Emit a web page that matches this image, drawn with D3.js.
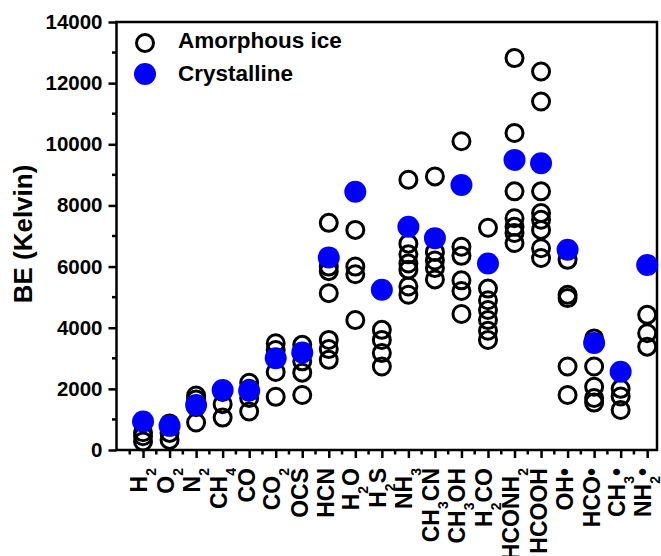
<!DOCTYPE html>
<html>
<head>
<meta charset="utf-8">
<script src="https://cdn.jsdelivr.net/npm/d3@7"></script>
<style>
  html, body { margin: 0; padding: 0; background: #fff; }
  svg { display: block; font-family: "Liberation Sans", Arial, sans-serif; font-weight: bold; }
</style>
</head>
<body>
<svg id="chart" width="661" height="556"></svg>
<script>
// Species (digits are drawn as subscripts)
const categories = ["H2","O2","N2","CH4","CO","CO2","OCS","HCN","H2O","H2S","NH3",
  "CH3CN","CH3OH","H2CO","HCONH2","HCOOH","OH•","HCO•","CH3•","NH2•"];

// Binding energies (K) on amorphous ice clusters, one list per species
const amorphous = [
  [280, 450, 580],
  [330, 560, 870],
  [900, 1400, 1650, 1780],
  [1060, 1500, 1900],
  [1260, 1700, 2000, 2200],
  [1740, 2550, 3270, 3490],
  [1800, 2530, 2900, 3440],
  [2950, 3300, 3600, 5130, 5850, 6000, 7430],
  [4250, 5750, 6000, 7200],
  [2730, 3170, 3600, 3930],
  [5080, 5350, 5900, 6100, 6400, 6750, 8840],
  [5580, 5950, 6200, 6480, 8950],
  [4450, 5200, 5550, 6350, 6650, 10100],
  [3600, 3900, 4250, 4580, 4900, 5280, 7270],
  [6770, 7100, 7300, 7580, 8460, 10370, 12820],
  [6280, 6600, 7200, 7530, 7750, 8460, 11400, 12380],
  [1800, 2730, 4970, 5080, 6220],
  [1550, 1700, 2070, 2730, 3650],
  [1310, 1750, 2000],
  [3380, 3820, 4420]
];

// Binding energies (K) on crystalline ice
const crystalline = [930, 790, 1470, 1960, 1940, 3000, 3190, 6300, 8450, 5240, 7300,
  6930, 8670, 6100, 9490, 9380, 6550, 3500, 2560, 6050];

const yTicks = [0, 2000, 4000, 6000, 8000, 10000, 12000, 14000];
const yMinorTicks = [1000, 3000, 5000, 7000, 9000, 11000, 13000];

const svg = d3.select("#chart");
const x = d3.scaleLinear().domain([0, 20.37]).range([116.5, 657]);
const y = d3.scaleLinear().domain([0, 14000]).range([450, 22]);

// Y axis: major ticks with labels, minor ticks between
const yAxis = svg.append("g").attr("transform", `translate(${x(0)},0)`)
  .call(d3.axisLeft(y).tickValues(yTicks).tickSize(8).tickPadding(6)
    .tickFormat(d3.format("d")).tickSizeOuter(0));
yAxis.selectAll(".tick line").attr("stroke", "#000").attr("stroke-width", 2.5);
yAxis.selectAll(".tick text").attr("font-size", 20.5).attr("font-weight", "bold")
  .attr("font-family", "Liberation Sans, Arial, sans-serif").attr("fill", "#000");
yAxis.select(".domain").remove();
svg.append("g").selectAll("line").data(yMinorTicks).join("line")
  .attr("x1", x(0) - 4.5).attr("x2", x(0))
  .attr("y1", d => y(d)).attr("y2", d => y(d))
  .attr("stroke", "#000").attr("stroke-width", 2.5);

// X axis: one major tick per species, minor ticks halfway
const xMajor = d3.range(1, categories.length + 1);
const xMinor = d3.range(0.5, categories.length, 1);
const xAxis = svg.append("g").attr("transform", `translate(0,${y(0)})`)
  .call(d3.axisBottom(x).tickValues(xMajor).tickSize(8).tickFormat("").tickSizeOuter(0));
xAxis.selectAll(".tick line").attr("stroke", "#000").attr("stroke-width", 2.5);
xAxis.select(".domain").remove();
svg.append("g").selectAll("line").data(xMinor).join("line")
  .attr("x1", d => x(d)).attr("x2", d => x(d))
  .attr("y1", y(0)).attr("y2", y(0) + 4.5)
  .attr("stroke", "#000").attr("stroke-width", 2.5);

// Species labels, rotated, with subscripted digits
const SUB_SHIFT = 9;
const labels = svg.append("g");
categories.forEach((name, i) => {
  const parts = name.match(/\d+|[^\d]+/g);
  const hasSub = parts.some(p => /^\d+$/.test(p));
  const t = labels.append("text")
    .attr("transform", `translate(${x(i + 1) + (hasSub ? 4 : 5.5)},468) rotate(-90)`)
    .attr("text-anchor", "end")
    .attr("font-size", 23).attr("fill", "#000");
  let shifted = false;
  parts.forEach(p => {
    if (/^\d+$/.test(p)) {
      t.append("tspan").attr("font-size", 14).attr("dy", SUB_SHIFT).text(p);
      shifted = true;
    } else {
      const s = t.append("tspan").text(p);
      if (shifted) { s.attr("dy", -SUB_SHIFT); shifted = false; }
    }
  });
});

// Plot frame
svg.append("rect")
  .attr("x", x(0)).attr("y", y(14000))
  .attr("width", x(20.37) - x(0)).attr("height", y(0) - y(14000))
  .attr("fill", "none").attr("stroke", "#000").attr("stroke-width", 2.5);

// Amorphous ice points (open circles)
const amPts = [];
amorphous.forEach((vals, i) => vals.forEach(v => amPts.push({ i, v })));
svg.append("g").selectAll("circle").data(amPts).join("circle")
  .attr("cx", d => x(d.i + 1)).attr("cy", d => y(d.v)).attr("r", 8.5)
  .attr("fill", "none").attr("stroke", "#000").attr("stroke-width", 3);

// Crystalline ice points (filled blue)
svg.append("g").selectAll("circle").data(crystalline).join("circle")
  .attr("cx", (d, i) => x(i + 1)).attr("cy", d => y(d)).attr("r", 11)
  .attr("fill", "#0000ff");

// Y axis title
svg.append("text")
  .attr("transform", "translate(32,234) rotate(-90)")
  .attr("text-anchor", "middle").attr("font-size", 26).attr("fill", "#000")
  .text("BE (Kelvin)");

// Legend
const legend = svg.append("g");
legend.append("circle").attr("cx", 145).attr("cy", 43).attr("r", 8.5)
  .attr("fill", "none").attr("stroke", "#000").attr("stroke-width", 3);
legend.append("circle").attr("cx", 145).attr("cy", 74).attr("r", 11).attr("fill", "#0000ff");
legend.append("text").attr("x", 178).attr("y", 48).attr("font-size", 22.5).attr("fill", "#000")
  .text("Amorphous ice");
legend.append("text").attr("x", 178).attr("y", 81).attr("font-size", 22.5).attr("fill", "#000")
  .text("Crystalline");
</script>
</body>
</html>
